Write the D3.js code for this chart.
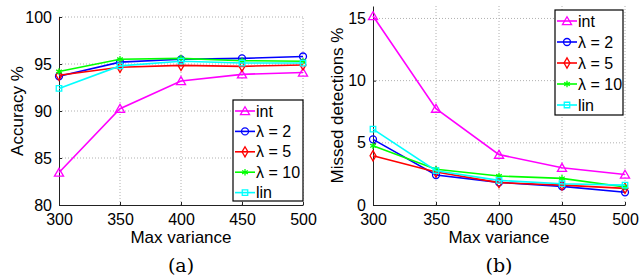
<!DOCTYPE html>
<html>
<head>
<meta charset="utf-8">
<script src="https://cdn.jsdelivr.net/npm/d3@7.9.0/dist/d3.min.js"></script>
<style>
  body { margin: 0; background: #fff; }
  svg { display: block; font-family: "Liberation Sans", Arial, Helvetica, sans-serif; }
  .grid line { stroke: #b0b0b0; stroke-dasharray: 1 2; stroke-width: 1; }
  .axis path, .axis line { stroke: #222; }
  .axis text { font-size: 16px; fill: #000; }
</style>
</head>
<body>
<svg id="chart" width="641" height="277"></svg>
<script>
const maxVariance = [300, 350, 400, 450, 500];
const seriesNames = ['int', 'λ = 2', 'λ = 5', 'λ = 10', 'lin'];
const seriesColors = ['#ff00ff', '#0000ff', '#ff0000', '#00ff00', '#00ffff'];
const seriesMarkers = ['triangle', 'circle', 'diamond', 'star', 'square'];

// (a) accuracy
const accInt = [83.45, 90.25, 93.2, 93.9, 94.1];
const accL2 = [93.7, 95.2, 95.5, 95.6, 95.8];
const accL5 = [93.8, 94.65, 94.85, 94.75, 94.9];
const accL10 = [94.2, 95.5, 95.6, 95.35, 95.3];
const accLin = [92.4, 94.8, 95.3, 95.1, 95.1];
const accTicks = [80, 85, 90, 95, 100];

// (b) missed detections
const missInt = [15.2, 7.75, 4.05, 3.0, 2.45];
const missL2 = [5.28, 2.41, 1.82, 1.5, 1.02];
const missL5 = [3.96, 2.65, 1.8, 1.6, 1.34];
const missL10 = [4.76, 2.87, 2.33, 2.14, 1.45];
const missLin = [6.1, 2.76, 1.98, 1.71, 1.6];
const missTicks = [0, 5, 10, 15];

const svg = d3.select('#chart');

function drawMarker(g, type, x, y, color) {
  let s;
  if (type === 'triangle') s = d3.symbol(d3.symbolTriangle, 36);
  else if (type === 'circle') s = d3.symbol(d3.symbolCircle, 38);
  else if (type === 'diamond') s = d3.symbol(d3.symbolDiamond, 30);
  else if (type === 'square') s = d3.symbol(d3.symbolSquare, 30);
  else s = d3.symbol(d3.symbolAsterisk, 30);
  g.append('path')
    .attr('d', s())
    .attr('transform', `translate(${x},${type === 'triangle' ? y + 1 : y})`)
    .attr('fill', 'none')
    .attr('stroke', color)
    .attr('stroke-width', 1.3);
}

function drawPanel(opt) {
  const g = svg.append('g');
  const x = d3.scaleLinear().domain([300, 500]).range([opt.left, opt.right]);
  const y = d3.scaleLinear().domain(opt.yDomain).range([205, opt.top]);

  // grid
  const grid = g.append('g').attr('class', 'grid');
  grid.selectAll('.gx').data(maxVariance.slice(1)).join('line')
    .attr('x1', d => x(d)).attr('x2', d => x(d))
    .attr('y1', y.range()[0]).attr('y2', y.range()[1]);
  grid.selectAll('.gy').data(opt.ticks.slice(1)).join('line')
    .attr('x1', x.range()[0]).attr('x2', x.range()[1])
    .attr('y1', d => y(d)).attr('y2', d => y(d));

  // axes (inward ticks)
  g.append('g').attr('class', 'axis')
    .attr('transform', 'translate(0,205)')
    .call(d3.axisBottom(x).tickValues(maxVariance).tickSizeInner(-3).tickSizeOuter(0).tickPadding(9));
  g.append('g').attr('class', 'axis')
    .attr('transform', `translate(${opt.left},0)`)
    .call(d3.axisLeft(y).tickValues(opt.ticks).tickSizeInner(-3).tickSizeOuter(0).tickPadding(7));

  // lines + markers
  const line = d3.line().x((d, i) => x(maxVariance[i])).y(d => y(d));
  opt.series.forEach((vals, k) => {
    g.append('path')
      .attr('d', line(vals))
      .attr('fill', 'none')
      .attr('stroke', seriesColors[k])
      .attr('stroke-width', 1.6);
    vals.forEach((v, i) => drawMarker(g, seriesMarkers[k], x(maxVariance[i]), y(v), seriesColors[k]));
  });

  // axis labels
  g.append('text')
    .attr('x', (opt.left + opt.right) / 2).attr('y', 243)
    .attr('text-anchor', 'middle').attr('font-size', 17)
    .text('Max variance');
  g.append('text')
    .attr('transform', `translate(${opt.ylabelX},${(205 + opt.top) / 2}) rotate(-90)`)
    .attr('text-anchor', 'middle').attr('font-size', 17)
    .text(opt.ylabel);
  g.append('text')
    .attr('x', (opt.left + opt.right) / 2).attr('y', 272)
    .attr('text-anchor', 'middle').attr('font-size', 19)
    .attr('font-family', '"DejaVu Serif", "Liberation Serif", serif')
    .text(opt.caption);

  // legend
  const L = opt.legend;
  const lg = g.append('g');
  lg.append('rect')
    .attr('x', L.x).attr('y', L.y).attr('width', L.w).attr('height', L.h)
    .attr('fill', '#fff').attr('stroke', '#000').attr('stroke-width', 1.2);
  seriesNames.forEach((name, k) => {
    const yy = L.y + 11 + k * L.step;
    lg.append('line')
      .attr('x1', L.x + 2).attr('x2', L.x + 22)
      .attr('y1', yy).attr('y2', yy)
      .attr('stroke', seriesColors[k]).attr('stroke-width', 1.6);
    drawMarker(lg, seriesMarkers[k], L.x + 12, yy, seriesColors[k]);
    lg.append('text')
      .attr('x', L.x + 23).attr('y', yy + 5.5)
      .attr('font-size', 16)
      .text(name);
  });
}

drawPanel({
  left: 59, right: 303, top: 17, yDomain: [80, 100], ticks: accTicks,
  series: [accInt, accL2, accL5, accL10, accLin],
  ylabel: 'Accuracy %', ylabelX: 23, caption: '(a)',
  legend: { x: 233, y: 100, w: 70, h: 101, step: 20.4 }
});

drawPanel({
  left: 373, right: 625, top: 6, yDomain: [0, 16], ticks: missTicks,
  series: [missInt, missL2, missL5, missL10, missLin],
  ylabel: 'Missed detections %', ylabelX: 343, caption: '(b)',
  legend: { x: 555, y: 10, w: 68, h: 105, step: 21 }
});
</script>
</body>
</html>
